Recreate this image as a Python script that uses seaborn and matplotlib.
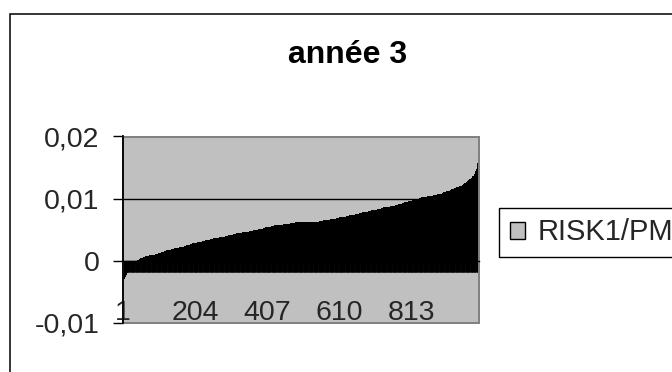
import numpy as np
import pandas as pd
import matplotlib
matplotlib.use("Agg")
import matplotlib.pyplot as plt
from matplotlib.patches import Rectangle, Patch
import seaborn as sns

# ---- data (sorted values of RISK1/PM, in units of 1e-4) ----
SCALE = 1e-4
risk_part1 = [
    -52, -45, -40, -36, -33, -30, -28, -26, -25, -23, -22, -21, -20, -19, -18, -17, -16, -15, -14, -13,
    -12, -11, -10, -9, -8, -7, -6, -5, -5, -4, -4, -3, -3, -2, -2, -1, -1, -1, 0, 0,
    0, 1, 1, 1, 2, 2, 2, 3, 3, 4, 4, 4, 5, 5, 5, 5, 6, 6, 6, 6,
    6, 6, 7, 7, 7, 7, 7, 7, 8, 8, 8, 8, 8, 8, 8, 9, 9, 9, 9, 9,
    9, 9, 9, 10, 10, 10, 10, 10, 10, 10, 10, 11, 11, 11, 11, 11, 11, 11, 11, 11,
    12, 12, 12, 12, 13, 13, 13, 13, 14, 14, 14, 14, 15, 15, 15, 15, 15, 16, 16, 16,
    16, 16, 16, 17, 17, 17, 17, 17, 18, 18, 18, 18, 18, 18, 18, 19, 19, 19, 19, 19,
    19, 19, 19, 20, 20, 20, 20, 20, 20, 20, 20, 21, 21, 21, 21, 21, 21, 22, 22, 22,
    22, 22, 22, 22, 23, 23, 23, 23, 23, 23, 23, 24, 24, 24, 24, 24, 24, 25, 25, 25,
    25, 25, 25, 25, 26, 26, 26, 26, 26, 26, 27, 27, 27, 27, 27, 27, 28, 28, 28, 28,
]
risk_part2 = [
    28, 28, 28, 29, 29, 29, 29, 29, 29, 29, 30, 30, 30, 30, 30, 30, 30, 31, 31, 31,
    31, 31, 31, 31, 32, 32, 32, 32, 32, 32, 33, 33, 33, 33, 33, 33, 33, 34, 34, 34,
    34, 34, 34, 34, 34, 34, 35, 35, 35, 35, 35, 35, 35, 35, 36, 36, 36, 36, 36, 36,
    36, 36, 37, 37, 37, 37, 37, 37, 37, 37, 37, 38, 38, 38, 38, 38, 38, 38, 38, 38,
    39, 39, 39, 39, 39, 39, 39, 39, 40, 40, 40, 40, 40, 40, 40, 40, 41, 41, 41, 41,
    41, 41, 41, 41, 41, 41, 42, 42, 42, 42, 42, 43, 43, 43, 43, 43, 43, 43, 44, 44,
    44, 44, 44, 44, 44, 44, 44, 44, 45, 45, 45, 45, 45, 45, 45, 45, 46, 46, 46, 46,
    46, 46, 46, 46, 46, 46, 46, 47, 47, 47, 47, 47, 47, 47, 47, 47, 48, 48, 48, 48,
    48, 48, 48, 48, 48, 49, 49, 49, 49, 49, 49, 49, 50, 50, 50, 50, 50, 50, 50, 51,
    51, 51, 51, 51, 51, 51, 52, 52, 52, 52, 52, 52, 52, 53, 53, 53, 53, 53, 53, 54,
]
risk_part3 = [
    54, 54, 54, 54, 54, 54, 54, 55, 55, 55, 55, 55, 55, 55, 55, 55, 56, 56, 56, 56,
    56, 56, 56, 56, 56, 56, 57, 57, 57, 57, 57, 57, 57, 57, 57, 57, 58, 58, 58, 58,
    58, 58, 58, 58, 58, 58, 58, 58, 58, 58, 59, 59, 59, 59, 59, 59, 59, 59, 59, 60,
    60, 60, 60, 60, 60, 60, 60, 60, 60, 60, 61, 61, 61, 61, 61, 61, 61, 61, 61, 61,
    61, 61, 61, 61, 61, 62, 62, 62, 62, 62, 62, 62, 62, 62, 62, 62, 62, 62, 62, 62,
    62, 62, 62, 62, 62, 62, 62, 62, 62, 62, 63, 63, 63, 63, 63, 63, 63, 63, 63, 63,
    63, 63, 63, 63, 63, 63, 63, 63, 63, 63, 63, 63, 63, 63, 63, 63, 63, 63, 63, 63,
    63, 63, 63, 63, 63, 63, 63, 63, 63, 63, 64, 64, 64, 64, 64, 64, 64, 64, 64, 64,
    64, 64, 65, 65, 65, 65, 65, 65, 65, 65, 66, 66, 66, 66, 66, 66, 66, 66, 66, 66,
    66, 66, 67, 67, 67, 67, 67, 67, 67, 67, 67, 67, 68, 68, 68, 68, 68, 68, 68, 68,
]
risk_part4 = [
    69, 69, 69, 69, 69, 69, 69, 69, 70, 70, 70, 70, 70, 70, 70, 70, 71, 71, 71, 71,
    71, 71, 71, 71, 71, 71, 71, 71, 72, 72, 72, 72, 72, 72, 72, 72, 73, 73, 73, 73,
    73, 73, 73, 73, 73, 74, 74, 74, 74, 74, 74, 74, 75, 75, 75, 75, 75, 75, 75, 76,
    76, 76, 76, 76, 76, 77, 77, 77, 77, 77, 77, 77, 77, 78, 78, 78, 78, 78, 78, 78,
    78, 78, 79, 79, 79, 79, 79, 79, 79, 79, 80, 80, 80, 80, 80, 80, 80, 80, 81, 81,
    81, 81, 81, 81, 81, 81, 81, 82, 82, 82, 82, 82, 82, 83, 83, 83, 83, 83, 83, 84,
    84, 84, 84, 84, 84, 85, 85, 85, 85, 85, 85, 86, 86, 86, 86, 86, 86, 86, 86, 86,
    86, 86, 87, 87, 87, 87, 87, 87, 87, 87, 87, 88, 88, 88, 88, 88, 88, 88, 89, 89,
    89, 89, 89, 89, 89, 89, 90, 90, 90, 90, 90, 90, 90, 91, 91, 91, 91, 91, 91, 91,
    92, 92, 92, 92, 92, 93, 93, 93, 93, 93, 93, 94, 94, 94, 94, 94, 95, 95, 95, 95,
]
risk_part5 = [
    95, 95, 96, 96, 96, 96, 96, 96, 97, 97, 97, 97, 97, 98, 98, 98, 98, 98, 98, 99,
    99, 99, 99, 99, 99, 100, 100, 100, 100, 100, 100, 100, 101, 101, 101, 101, 101, 101, 101, 102,
    102, 102, 102, 102, 102, 102, 102, 103, 103, 103, 103, 103, 103, 103, 103, 104, 104, 104, 104, 104,
    104, 104, 104, 104, 105, 105, 105, 105, 105, 105, 105, 105, 105, 106, 106, 106, 106, 106, 106, 106,
    106, 106, 106, 107, 107, 107, 107, 107, 107, 107, 108, 108, 108, 108, 108, 108, 109, 109, 109, 109,
    109, 110, 110, 110, 110, 111, 111, 111, 111, 112, 112, 112, 112, 112, 113, 113, 113, 113, 114, 114,
    114, 114, 114, 115, 115, 115, 115, 115, 116, 116, 116, 116, 117, 117, 117, 117, 117, 118, 118, 118,
    118, 119, 119, 119, 119, 120, 120, 120, 120, 120, 121, 121, 121, 122, 122, 122, 123, 123, 124, 124,
    125, 125, 126, 126, 126, 127, 127, 128, 128, 129, 129, 130, 130, 131, 131, 132, 132, 133, 133, 134,
    135, 135, 136, 136, 137, 137, 138, 139, 140, 141, 142, 144, 146, 148, 151, 154, 158, 162, 166, 170,
]

x_tick_values = [1, 204, 407, 610, 813]
x_tick_labels = ["1", "204", "407", "610", "813"]
y_tick_values = [-0.01, 0.0, 0.01, 0.02]
y_tick_labels = ["-0,01", "0", "0,01", "0,02"]
title_text = "année 3"
series_name = "RISK1/PM"

values = np.array(risk_part1 + risk_part2 + risk_part3 + risk_part4 + risk_part5) * SCALE
categories = np.arange(1, len(values) + 1)
df = pd.DataFrame({"cat": categories, "val": values})

# ---- style ----
sns.set_style("white")
plt.rcParams["font.family"] = ["Liberation Sans", "DejaVu Sans"]

W, H = 672, 372
fig = plt.figure(figsize=(W / 100, H / 100), dpi=100)
fig.patch.set_facecolor("white")

left, right, top, bottom = 122.7, 478.7, 136.5, 323.0
ax = fig.add_axes([left / W, 1 - bottom / H, (right - left) / W, (bottom - top) / H])
ax.set_facecolor("#C0C0C0")

sns.barplot(data=df, x="cat", y="val", native_scale=True, color="black",
            width=1.0, linewidth=0, errorbar=None, saturation=1, ax=ax)

ax.set_xlim(0.5, len(values) + 0.5)
ax.set_ylim(-0.01, 0.02)
ax.set_xlabel("")
ax.set_ylabel("")

# y axis
ax.set_yticks(y_tick_values)
ax.set_yticklabels(y_tick_labels)
ax.tick_params(axis="y", which="major", direction="out", length=7.2, width=1,
               color="black", labelsize=20.5, pad=9.5, left=True)
ax.yaxis.grid(True, color="black", linewidth=1)
ax.set_axisbelow(True)

# x axis through zero, with a tick for every category
ax.spines["bottom"].set_position(("data", 0))
ax.spines["bottom"].set_color("black")
ax.spines["bottom"].set_linewidth(1)
ax.spines["bottom"].set_zorder(7)
ax.set_xticks(x_tick_values)
ax.set_xticklabels(x_tick_labels)
ax.set_xticks(np.arange(0.5, len(values) + 1, 1), minor=True)
ax.tick_params(axis="x", which="major", direction="out", length=8, width=0.6,
               color="black", labelsize=20.5, pad=20.5, bottom=True)
ax.tick_params(axis="x", which="minor", direction="out", length=8, width=0.6,
               color="black", bottom=True)

for s in ["top", "right"]:
    ax.spines[s].set_visible(False)
ax.spines["left"].set_color("black")
ax.spines["left"].set_linewidth(1.3)
ax.spines["left"].set_zorder(8)

# grey plot-area border
ax.add_patch(Rectangle((0, 0), 1, 1, transform=ax.transAxes, fill=False,
                       edgecolor="#808080", linewidth=1.4, zorder=6, clip_on=False))

# title
fig.text(348 / W, 1 - 63 / H, title_text, ha="center", va="baseline",
         fontsize=23, fontweight="bold", color="black")

# legend
leg = ax.legend(handles=[Patch(facecolor="#C0C0C0", edgecolor="black", linewidth=1)],
                labels=[series_name], loc="upper left",
                bbox_to_anchor=(499 / W, 1 - 208 / H), bbox_transform=fig.transFigure,
                frameon=True, fancybox=False, edgecolor="black", framealpha=1,
                fontsize=21, handlelength=0.52, handleheight=0.52,
                handletextpad=0.45, borderpad=0.36, borderaxespad=0)
leg.get_frame().set_linewidth(1)

# chart-area frame
fig.add_artist(Rectangle((9.5 / W, -0.5), 2.0, (1 - 13.5 / H) + 0.5,
                         transform=fig.transFigure, fill=False,
                         edgecolor="black", linewidth=1.1))

fig.savefig("out.png", dpi=100)
